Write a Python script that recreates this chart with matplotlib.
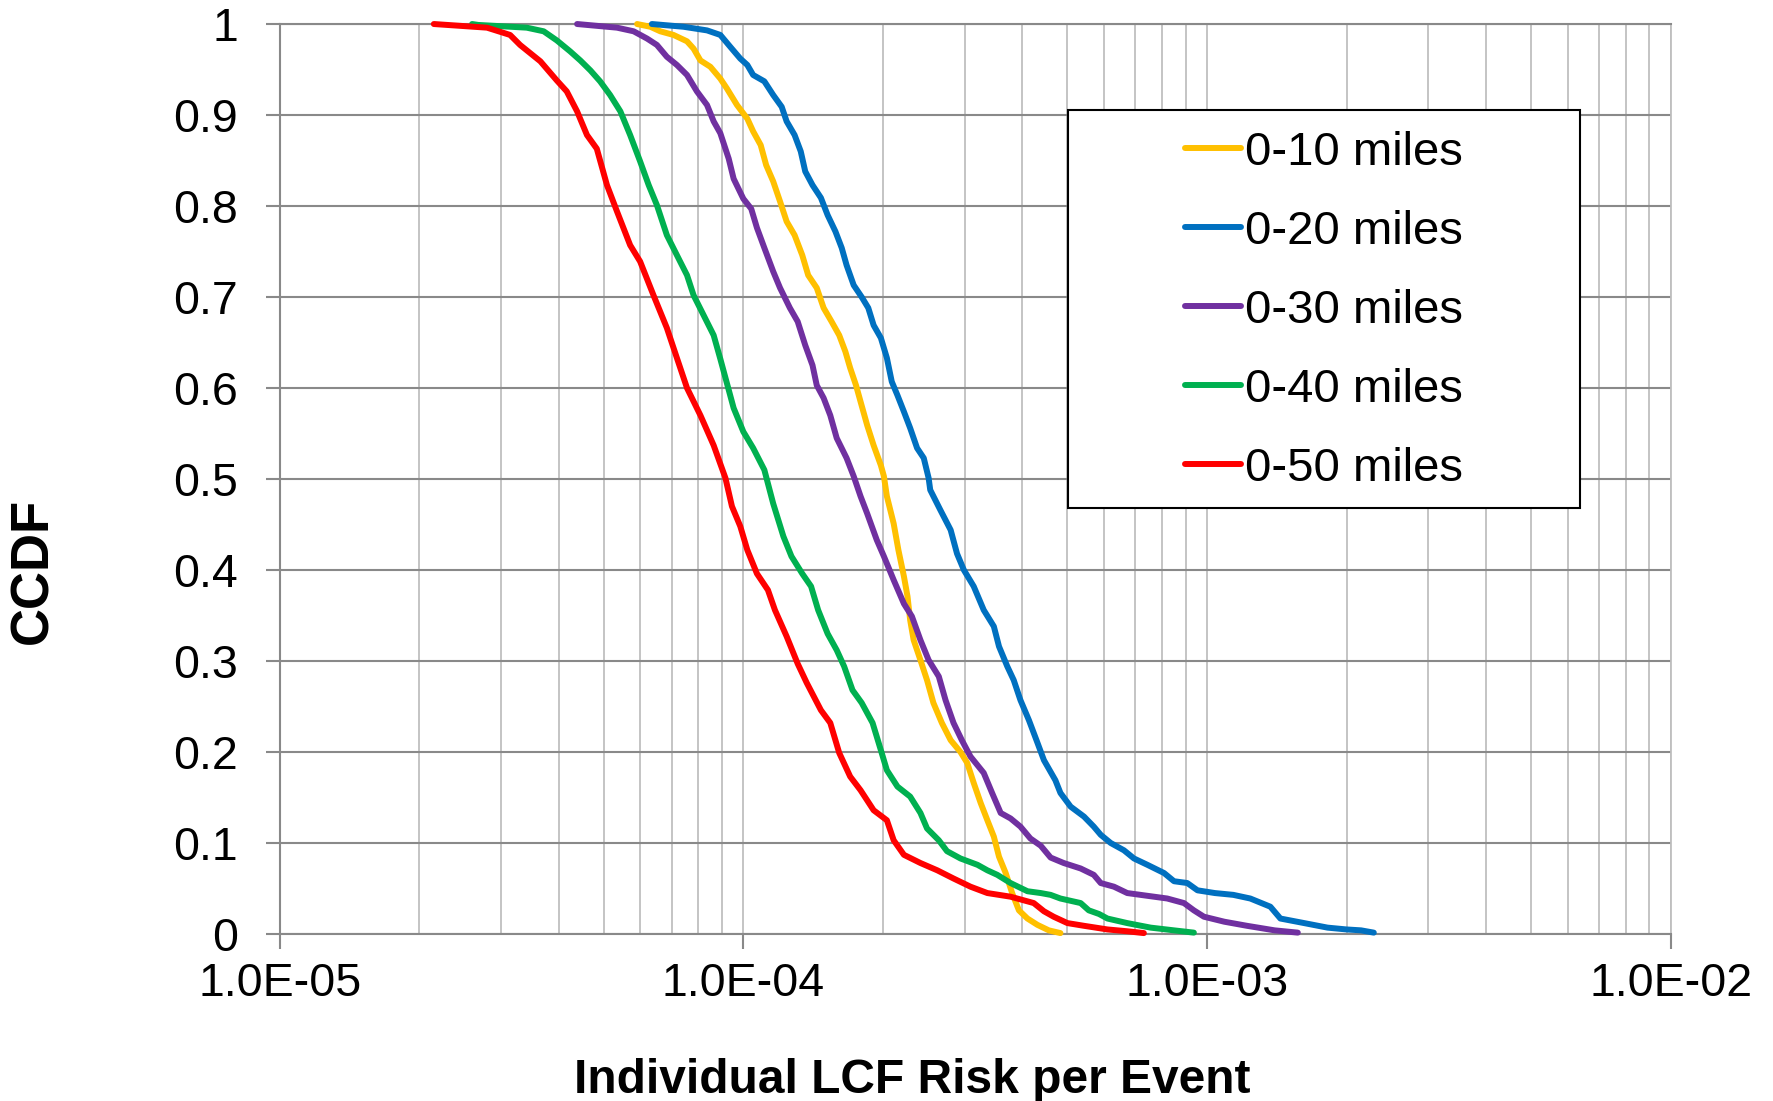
import numpy as np
import matplotlib
matplotlib.use("Agg")
import matplotlib.pyplot as plt
from matplotlib.patches import Rectangle
from matplotlib.ticker import FixedLocator, LogLocator, NullFormatter

plt.rcParams['font.family'] = ['Liberation Sans', 'DejaVu Sans']

# CCDF of individual LCF risk per event, by distance band
labels = ['0-10 miles', '0-20 miles', '0-30 miles', '0-40 miles', '0-50 miles']
colors = ['#FFC000', '#0070C0', '#7030A0', '#00B050', '#FF0000']

risk_10 = [5.90e-5, 6.30e-5, 6.62e-5, 7.07e-5, 7.56e-5, 7.81e-5, 8.08e-5, 8.49e-5, 8.92e-5, 9.22e-5,
           9.69e-5, 1.02e-4, 1.05e-4, 1.09e-4, 1.12e-4, 1.16e-4, 1.20e-4, 1.24e-4, 1.29e-4, 1.34e-4,
           1.38e-4, 1.44e-4, 1.49e-4, 1.55e-4, 1.61e-4, 1.66e-4, 1.70e-4, 1.75e-4, 1.79e-4, 1.85e-4,
           1.91e-4, 1.98e-4, 2.01e-4, 2.04e-4, 2.11e-4, 2.16e-4, 2.22e-4, 2.26e-4, 2.29e-4, 2.33e-4,
           2.41e-4, 2.49e-4, 2.57e-4, 2.68e-4, 2.80e-4, 2.94e-4, 3.04e-4, 3.14e-4, 3.25e-4, 3.36e-4,
           3.47e-4, 3.56e-4, 3.68e-4, 3.80e-4, 3.93e-4, 4.10e-4, 4.31e-4, 4.56e-4, 4.83e-4]
ccdf_10 = [1.000, 0.997, 0.992, 0.988, 0.981, 0.973, 0.960, 0.953, 0.940, 0.929,
           0.911, 0.896, 0.882, 0.867, 0.845, 0.827, 0.805, 0.783, 0.768, 0.746,
           0.724, 0.710, 0.688, 0.673, 0.658, 0.640, 0.622, 0.603, 0.585, 0.559,
           0.537, 0.515, 0.503, 0.481, 0.451, 0.422, 0.393, 0.371, 0.345, 0.323,
           0.301, 0.279, 0.254, 0.232, 0.213, 0.200, 0.188, 0.166, 0.144, 0.125,
           0.107, 0.085, 0.067, 0.045, 0.026, 0.017, 0.010, 0.004, 0.001]

risk_20 = [6.35e-5, 7.43e-5, 8.35e-5, 8.92e-5, 9.37e-5, 9.85e-5, 1.02e-4, 1.05e-4, 1.11e-4, 1.16e-4,
           1.21e-4, 1.24e-4, 1.29e-4, 1.33e-4, 1.36e-4, 1.41e-4, 1.47e-4, 1.52e-4, 1.58e-4, 1.63e-4,
           1.67e-4, 1.73e-4, 1.80e-4, 1.86e-4, 1.91e-4, 1.98e-4, 2.04e-4, 2.09e-4, 2.15e-4, 2.22e-4,
           2.29e-4, 2.37e-4, 2.45e-4, 2.51e-4, 2.53e-4, 2.66e-4, 2.80e-4, 2.89e-4, 2.99e-4, 3.14e-4,
           3.30e-4, 3.47e-4, 3.56e-4, 3.71e-4, 3.83e-4, 3.96e-4, 4.13e-4, 4.31e-4, 4.45e-4, 4.71e-4,
           4.83e-4, 5.08e-4, 5.43e-4, 5.70e-4, 5.90e-4, 6.20e-4, 6.62e-4, 6.96e-4, 7.44e-4, 8.08e-4,
           8.49e-4, 9.07e-4, 9.54e-4, 1.04e-3, 1.14e-3, 1.24e-3, 1.37e-3, 1.44e-3, 1.62e-3, 1.82e-3,
           2.00e-3, 2.15e-3, 2.29e-3]
ccdf_20 = [1.000, 0.997, 0.993, 0.988, 0.975, 0.962, 0.955, 0.944, 0.937, 0.922,
           0.909, 0.893, 0.878, 0.860, 0.838, 0.823, 0.809, 0.790, 0.772, 0.754,
           0.735, 0.713, 0.700, 0.688, 0.669, 0.655, 0.633, 0.607, 0.592, 0.574,
           0.556, 0.534, 0.523, 0.501, 0.488, 0.466, 0.444, 0.418, 0.400, 0.382,
           0.356, 0.338, 0.316, 0.294, 0.279, 0.257, 0.235, 0.210, 0.191, 0.169,
           0.155, 0.140, 0.129, 0.118, 0.109, 0.100, 0.092, 0.083, 0.076, 0.067,
           0.058, 0.056, 0.048, 0.045, 0.043, 0.039, 0.030, 0.017, 0.012, 0.007,
           0.005, 0.004, 0.0015]

risk_30 = [4.38e-5, 5.34e-5, 5.80e-5, 6.20e-5, 6.51e-5, 6.84e-5, 7.19e-5, 7.56e-5, 7.94e-5, 8.35e-5,
           8.63e-5, 8.92e-5, 9.30e-5, 9.53e-5, 1.00e-4, 1.04e-4, 1.07e-4, 1.11e-4, 1.16e-4, 1.20e-4,
           1.26e-4, 1.31e-4, 1.36e-4, 1.41e-4, 1.44e-4, 1.49e-4, 1.54e-4, 1.59e-4, 1.67e-4, 1.73e-4,
           1.79e-4, 1.85e-4, 1.94e-4, 2.01e-4, 2.11e-4, 2.22e-4, 2.31e-4, 2.41e-4, 2.51e-4, 2.64e-4,
           2.73e-4, 2.84e-4, 2.96e-4, 3.09e-4, 3.30e-4, 3.44e-4, 3.59e-4, 3.77e-4, 3.96e-4, 4.16e-4,
           4.38e-4, 4.60e-4, 4.91e-4, 5.34e-4, 5.70e-4, 5.90e-4, 6.30e-4, 6.73e-4, 7.19e-4, 8.21e-4,
           8.92e-4, 9.37e-4, 9.85e-4, 1.09e-3, 1.22e-3, 1.40e-3, 1.57e-3]
ccdf_30 = [1.000, 0.996, 0.992, 0.984, 0.977, 0.964, 0.955, 0.944, 0.926, 0.911,
           0.893, 0.880, 0.852, 0.830, 0.808, 0.797, 0.776, 0.754, 0.728, 0.710,
           0.688, 0.673, 0.647, 0.625, 0.603, 0.589, 0.570, 0.545, 0.523, 0.503,
           0.481, 0.462, 0.433, 0.415, 0.389, 0.363, 0.349, 0.323, 0.301, 0.283,
           0.257, 0.232, 0.213, 0.195, 0.177, 0.155, 0.133, 0.127, 0.118, 0.105,
           0.097, 0.084, 0.078, 0.072, 0.065, 0.056, 0.052, 0.045, 0.043, 0.039,
           0.034, 0.026, 0.019, 0.0135, 0.009, 0.004, 0.0015]

risk_40 = [2.60e-5, 2.68e-5, 3.41e-5, 3.71e-5, 3.96e-5, 4.23e-5, 4.45e-5, 4.68e-5, 4.91e-5, 5.16e-5,
           5.43e-5, 5.70e-5, 5.99e-5, 6.25e-5, 6.51e-5, 6.84e-5, 7.19e-5, 7.56e-5, 7.81e-5, 8.21e-5,
           8.63e-5, 8.92e-5, 9.22e-5, 9.53e-5, 1.00e-4, 1.05e-4, 1.11e-4, 1.16e-4, 1.22e-4, 1.27e-4,
           1.34e-4, 1.40e-4, 1.45e-4, 1.52e-4, 1.59e-4, 1.65e-4, 1.72e-4, 1.80e-4, 1.90e-4, 1.98e-4,
           2.04e-4, 2.15e-4, 2.29e-4, 2.41e-4, 2.49e-4, 2.64e-4, 2.75e-4, 2.94e-4, 3.20e-4, 3.36e-4,
           3.53e-4, 3.77e-4, 4.10e-4, 4.38e-4, 4.60e-4, 4.83e-4, 5.34e-4, 5.56e-4, 5.85e-4, 6.10e-4,
           6.73e-4, 7.56e-4, 8.49e-4, 9.37e-4]
ccdf_40 = [1.000, 0.999, 0.996, 0.992, 0.982, 0.970, 0.960, 0.949, 0.937, 0.922,
           0.904, 0.878, 0.849, 0.823, 0.801, 0.768, 0.746, 0.724, 0.702, 0.680,
           0.658, 0.632, 0.605, 0.578, 0.552, 0.534, 0.510, 0.473, 0.437, 0.415,
           0.396, 0.382, 0.356, 0.330, 0.312, 0.294, 0.268, 0.254, 0.232, 0.202,
           0.180, 0.162, 0.151, 0.133, 0.116, 0.103, 0.091, 0.083, 0.076, 0.070,
           0.065, 0.056, 0.047, 0.045, 0.043, 0.039, 0.034, 0.026, 0.022, 0.017,
           0.012, 0.007, 0.004, 0.0015]

risk_50 = [2.15e-5, 2.80e-5, 3.14e-5, 3.30e-5, 3.65e-5, 3.96e-5, 4.16e-5, 4.38e-5, 4.60e-5, 4.83e-5,
           5.08e-5, 5.34e-5, 5.70e-5, 5.99e-5, 6.40e-5, 6.84e-5, 7.19e-5, 7.56e-5, 8.08e-5, 8.63e-5,
           9.15e-5, 9.45e-5, 9.85e-5, 1.02e-4, 1.07e-4, 1.13e-4, 1.17e-4, 1.24e-4, 1.31e-4, 1.37e-4,
           1.47e-4, 1.54e-4, 1.61e-4, 1.70e-4, 1.79e-4, 1.91e-4, 2.04e-4, 2.11e-4, 2.22e-4, 2.41e-4,
           2.62e-4, 2.84e-4, 3.09e-4, 3.36e-4, 3.77e-4, 4.23e-4, 4.45e-4, 4.67e-4, 5.00e-4, 5.43e-4,
           6.10e-4, 6.73e-4, 7.31e-4]
ccdf_50 = [1.000, 0.996, 0.988, 0.977, 0.959, 0.938, 0.926, 0.904, 0.878, 0.863,
           0.823, 0.794, 0.757, 0.739, 0.702, 0.666, 0.633, 0.600, 0.570, 0.537,
           0.501, 0.470, 0.448, 0.422, 0.396, 0.378, 0.356, 0.327, 0.297, 0.276,
           0.246, 0.232, 0.199, 0.173, 0.158, 0.136, 0.125, 0.103, 0.087, 0.078,
           0.070, 0.061, 0.052, 0.045, 0.041, 0.034, 0.025, 0.019, 0.012, 0.009,
           0.005, 0.003, 0.001]

x_ticks = [1e-5, 1e-4, 1e-3, 1e-2]
x_ticklabels = ['1.0E-05', '1.0E-04', '1.0E-03', '1.0E-02']
y_ticks = [0, 0.1, 0.2, 0.3, 0.4, 0.5, 0.6, 0.7, 0.8, 0.9, 1]
y_ticklabels = ['0', '0.1', '0.2', '0.3', '0.4', '0.5', '0.6', '0.7', '0.8', '0.9', '1']

series = [(risk_10, ccdf_10), (risk_20, ccdf_20), (risk_30, ccdf_30),
          (risk_40, ccdf_40), (risk_50, ccdf_50)]

axis_gray = '#898989'
minor_gray = '#bfbfbf'

fig = plt.figure(figsize=(17.73, 11.01), dpi=100)
ax = fig.add_axes([0.15775, 0.15168, 0.7845, 0.8265])

for (x, y), c, lab in zip(series, colors, labels):
    ax.plot(x, y, color=c, lw=4.3, label=lab, solid_capstyle='round',
            solid_joinstyle='round', clip_on=False, zorder=3)

ax.set_xscale('log')
ax.set_xlim(1e-5, 1e-2)
ax.set_ylim(0, 1)

ax.xaxis.set_major_locator(FixedLocator(x_ticks))
ax.set_xticklabels(x_ticklabels)
ax.xaxis.set_minor_locator(LogLocator(base=10, subs=np.arange(2, 10)))
ax.xaxis.set_minor_formatter(NullFormatter())
ax.set_yticks(y_ticks)
ax.set_yticklabels(y_ticklabels)

ax.set_axisbelow(True)
ax.grid(axis='y', which='major', color=axis_gray, lw=1.5)
ax.grid(axis='x', which='both', color=minor_gray, lw=1.3)

ax.tick_params(axis='x', which='minor', length=0)
ax.tick_params(axis='x', which='major', length=11, width=1.5, color=axis_gray,
               pad=9, labelsize=33.5)
ax.tick_params(axis='y', length=10, width=1.5, color=axis_gray, pad=20, labelsize=33.5)

for side in ['left', 'bottom', 'top']:
    ax.spines[side].set_color(axis_gray)
    ax.spines[side].set_linewidth(1.5)
ax.spines['right'].set_color(minor_gray)
ax.spines['right'].set_linewidth(1.3)

# legend box sits inside the plot area, entries centred in it
ax.add_patch(Rectangle((0.567, 0.468), 0.368, 0.4375, transform=ax.transAxes,
                       facecolor='white', edgecolor='black', lw=1.5, zorder=4))
leg = ax.legend(loc='center', bbox_to_anchor=(0.751, 0.685), frameon=False,
                fontsize=34, handlelength=1.19, handletextpad=0.08,
                labelspacing=0.74, borderpad=0)
leg.set_zorder(5)

fig.text(0.5144, 0.0073, 'Individual LCF Risk per Event', ha='center', va='baseline',
         fontsize=34.5, fontweight='bold')
fig.text(0.0186, 0.4818, 'CCDF', rotation=90, ha='center', va='center',
         fontsize=38, fontweight='bold')

fig.savefig('out.png', dpi=100)
